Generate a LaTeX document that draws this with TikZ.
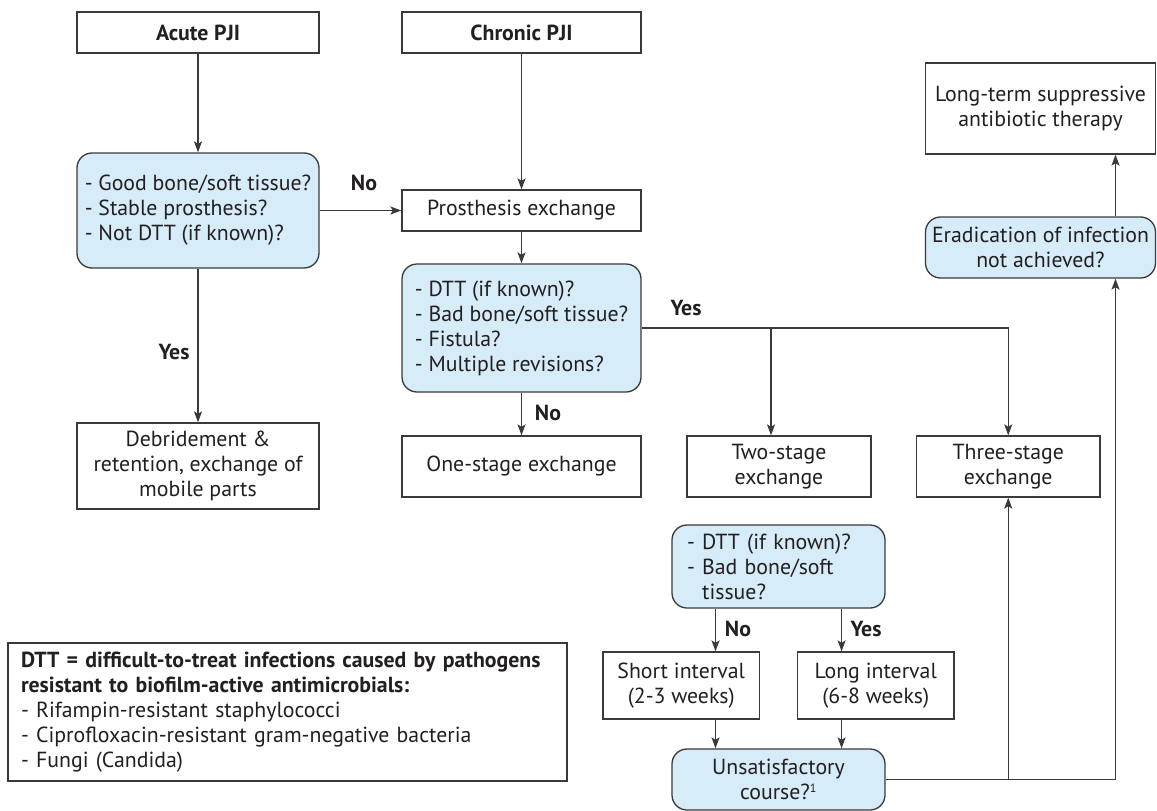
\documentclass[tikz,border=0pt]{standalone}
\usepackage{fontspec}
\setmainfont{PT Sans}
\usetikzlibrary{arrows.meta}
\definecolor{qblue}{RGB}{214,236,249}
\definecolor{edgec}{RGB}{58,58,58}
\definecolor{ink}{RGB}{35,31,32}
\newcommand{\myfs}{\fontsize{21.8}{25}\selectfont}
\begin{document}
\begin{tikzpicture}[x=1pt,y=-1pt,
  font=\myfs, text=ink,
  box/.style={draw=edgec, line width=1.3pt, fill=white, inner sep=0pt, align=center},
  qbox/.style={box, fill=qblue, rounded corners=15pt},
  arr/.style={draw=edgec, line width=1.3pt, -{Stealth[length=11pt,width=8pt,inset=2.5pt]}},
  ln/.style={draw=edgec, line width=1.3pt},
  lbl/.style={font=\myfs\bfseries, inner sep=0pt}]
\useasboundingbox (0,0) rectangle (1157,811);

% boxes
\node[box, minimum width=242pt, minimum height=41pt, font=\myfs\bfseries] (acute) at (198,32.5) {Acute PJI};
\node[box, minimum width=239pt, minimum height=41pt, font=\myfs\bfseries] (chronic) at (521.5,32.5) {Chronic PJI};
\node[qbox, minimum width=242pt, minimum height=115pt, align=left] (q1) at (198,210.5)
  {- Good bone/soft tissue?\\- Stable prosthesis?\\- Not DTT (if known)?};
\node[box, minimum width=239pt, minimum height=41pt] (prost) at (521.5,210.5) {Prosthesis exchange};
\node[qbox, minimum width=239pt, minimum height=128pt, align=left] (q2) at (521.5,328)
  {- DTT (if known)?\\- Bad bone/soft tissue?\\- Fistula?\\- Multiple revisions?};
\node[box, minimum width=239pt, minimum height=61pt] (one) at (521.5,466.5) {One-stage exchange};
\node[box, minimum width=184pt, minimum height=61pt] (two) at (779,466.5) {Two-stage\\exchange};
\node[box, minimum width=183.5pt, minimum height=61pt] (three) at (1008.25,466.5) {Three-stage\\exchange};
\node[qbox, text width=183pt, inner xsep=15pt, minimum height=83pt, align=left] (q3) at (778.5,566.5)
  {- DTT (if known)?\\- Bad bone/soft\\\hphantom{- }tissue?};
\node[box, minimum width=156.5pt, minimum height=67pt] (short) at (681.25,685.5) {Short interval\\(2-3 weeks)};
\node[box, minimum width=156.5pt, minimum height=67pt] (long) at (875.75,685.5) {Long interval\\(6-8 weeks)};
\node[qbox, minimum width=213pt, minimum height=61pt] (unsat) at (778.5,779.5) {Unsatisfactory\\course?\textsuperscript{\fontsize{12}{12}\selectfont 1}};
\node[qbox, minimum width=230pt, minimum height=61pt] (erad) at (1040.5,247.5) {Eradication of infection\\not achieved?};
\node[box, minimum width=230pt, minimum height=91pt] (longterm) at (1040.5,108.5) {Long-term suppressive\\antibiotic therapy};
\node[box, minimum width=242pt, minimum height=86pt] (debr) at (198,466) {Debridement \&\\retention, exchange of\\mobile parts};
\node[box, text width=533pt, inner xsep=13pt, minimum height=138pt, align=left] (legend) at (287.5,712)
  {\textbf{DTT = difficult-to-treat infections caused by pathogens}\\
   \textbf{resistant to biofilm-active antimicrobials:}\\
   - Rifampin-resistant staphylococci\\
   - Ciprofloxacin-resistant gram-negative bacteria\\
   - Fungi (Candida)};

% labels
\node[lbl] (lno1) at (364,183) {No};
\node[lbl] (lyes1) at (174,352) {Yes};
\node[lbl] (lyes2) at (686,308) {Yes};
\node[lbl] (lno2) at (548,413) {No};
\node[lbl] (lno3) at (738,629) {No};
\node[lbl] (lyes3) at (866,629) {Yes};

% helper coordinates
\coordinate (ybr) at (771,328);
\coordinate (yend) at (1008.25,328);
\coordinate (nox) at (715.5,0);
\coordinate (yesx) at (841.6,0);
\coordinate (uend) at (1115.5,779.5);
\coordinate (ubr) at (1008.25,779.5);

% connectors
\draw[arr] (acute) -- (q1);
\draw[arr] (chronic) -- (prost);
\draw[arr] (q1) -- (prost);
\draw[arr] (prost) -- (q2);
\draw[arr] (q2) -- (one);
\draw[arr] (q1) -- (debr);
\draw[arr] (q2.east) -- (yend) -- (three.north);
\draw[arr] (ybr) -- (ybr |- two.north);
\draw[arr] (nox |- q3.south) -- (nox |- short.north);
\draw[arr] (yesx |- q3.south) -- (yesx |- long.north);
\draw[arr] (nox |- short.south) -- (nox |- unsat.north);
\draw[arr] (yesx |- long.south) -- (yesx |- unsat.north);
\draw[arr] (unsat.east) -- (uend) -- (uend |- erad.south);
\draw[arr] (ubr) -- (three.south);
\draw[arr] (uend |- erad.north) -- (uend |- longterm.south);
\end{tikzpicture}
\end{document}
